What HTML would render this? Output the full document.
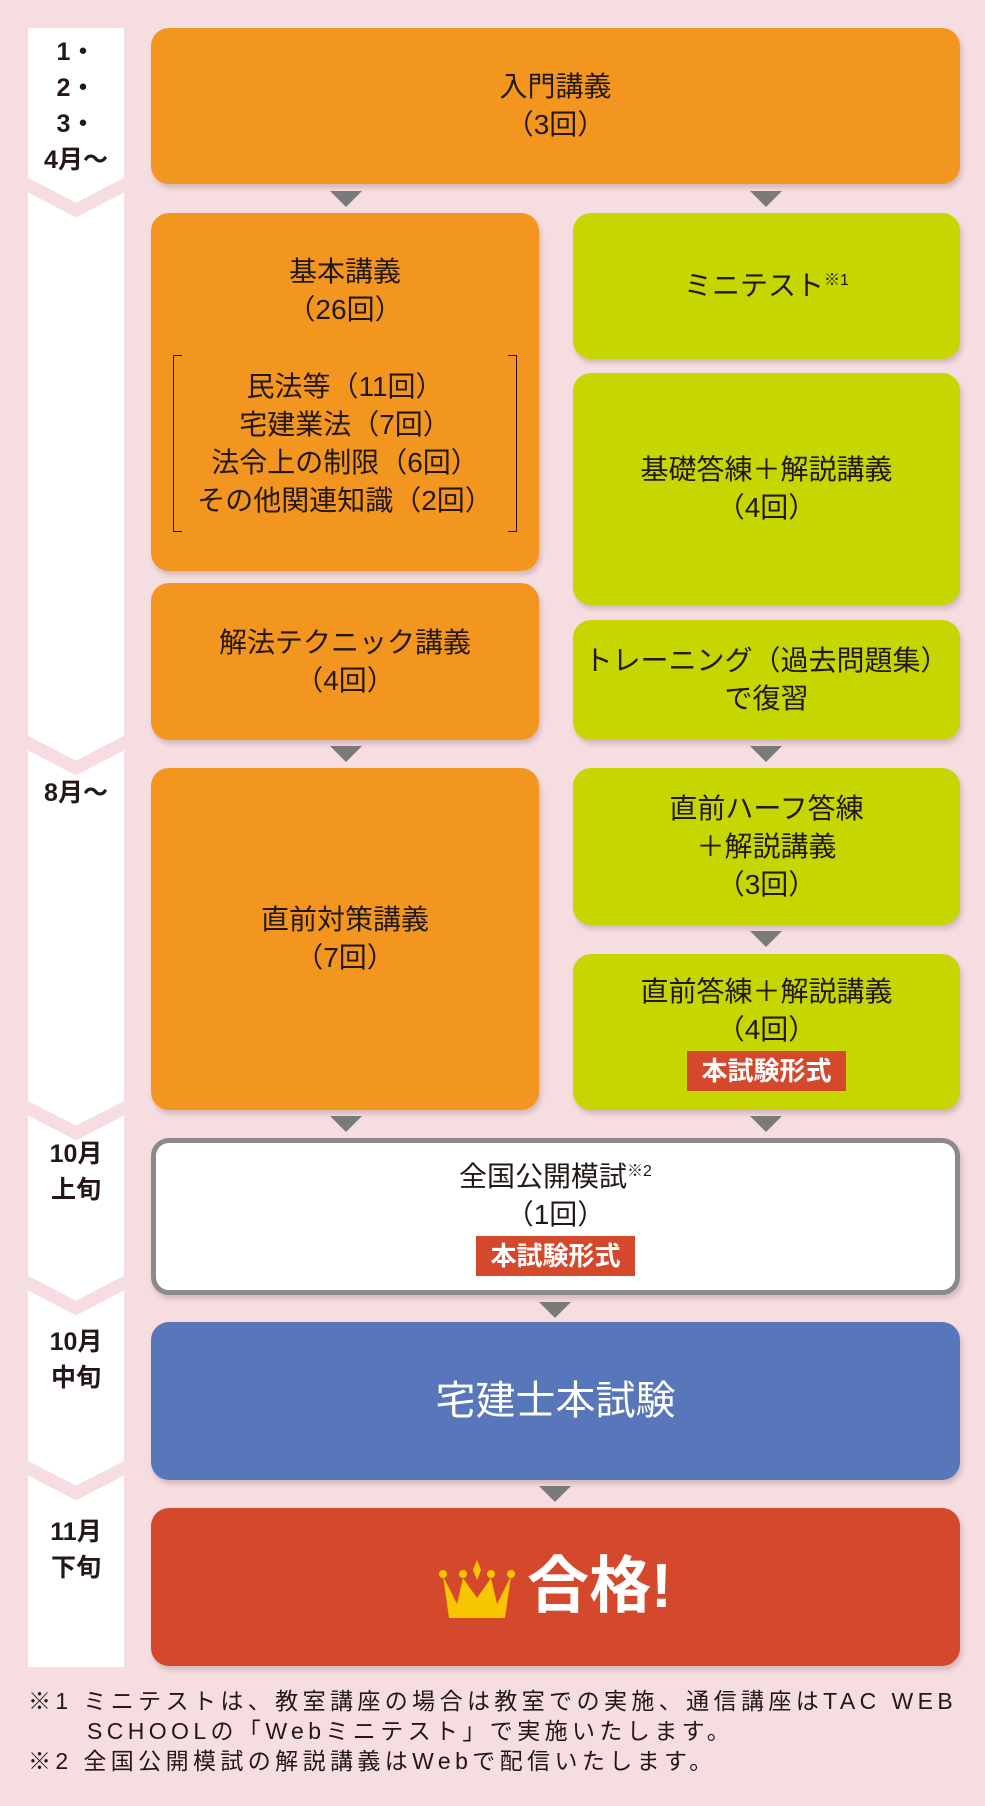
<!DOCTYPE html>
<html><head><meta charset="utf-8">
<style>
*{margin:0;padding:0;box-sizing:border-box}
body{width:985px;height:1806px;background:#F5DDE0;position:relative;overflow:hidden;font-family:"Liberation Sans","Noto Sans CJK JP",sans-serif;color:#231815}
.b{position:absolute;border-radius:18px;display:flex;flex-direction:column;align-items:center;justify-content:center;text-align:center;font-size:28px;line-height:38px;box-shadow:2px 4px 5px rgba(120,80,80,.25)}
.o{background:#F29620}.g{background:#C5D600}
.a{position:absolute;width:0;height:0;border-left:16px solid transparent;border-right:16px solid transparent;border-top:16px solid #7a7a7a}
.m{position:absolute;left:28px;width:96px;text-align:center;font-weight:bold;font-size:25px;line-height:36px}
.badge{background:#D4492C;color:#fff;font-weight:bold;font-size:26px;line-height:40px;padding:0 14px;margin-top:6px}
sup{font-size:16px;vertical-align:10px;line-height:0}
.fn{position:absolute;left:28px;font-size:23px;line-height:30px;letter-spacing:4.4px;white-space:nowrap}
</style></head><body>
<svg style="position:absolute;left:0;top:0" width="985" height="1806">
<rect x="28" y="28" width="96" height="1639" fill="#fff"/>
<g fill="none" stroke="#F5DDE0" stroke-width="13">
<polyline points="22,182 76,210 130,182"/>
<polyline points="22,740 76,768 130,740"/>
<polyline points="22,1105 76,1133 130,1105"/>
<polyline points="22,1280 76,1308 130,1280"/>
<polyline points="22,1465 76,1493 130,1465"/>
</g>
</svg>
<div class="m" style="top:34px">1・<br>2・<br>3・<br>4月〜</div>
<div class="m" style="top:775px">8月〜</div>
<div class="m" style="top:1136px">10月<br>上旬</div>
<div class="m" style="top:1324px">10月<br>中旬</div>
<div class="m" style="top:1514px">11月<br>下旬</div>

<div class="b o" style="left:151px;top:28px;width:809px;height:156px"><div>入門講義<br>（3回）</div></div>
<div class="a" style="left:330px;top:191px"></div><div class="a" style="left:750px;top:191px"></div>

<div class="b o" style="left:151px;top:213px;width:388px;height:358px;justify-content:flex-start;padding-top:40px"><div>基本講義<br>（26回）</div>
<div style="margin-top:26px;width:344px;height:177px;border-left:1px solid #231815;border-right:1px solid #231815;position:relative;display:flex;flex-direction:column;justify-content:center">
<div style="position:absolute;left:0;top:0;width:8px;border-top:1px solid #231815"></div><div style="position:absolute;left:0;bottom:0;width:8px;border-top:1px solid #231815"></div>
<div style="position:absolute;right:0;top:0;width:8px;border-top:1px solid #231815"></div><div style="position:absolute;right:0;bottom:0;width:8px;border-top:1px solid #231815"></div>
<div>民法等（11回）<br>宅建業法（7回）<br>法令上の制限（6回）<br>その他関連知識（2回）</div></div></div>
<div class="b g" style="left:573px;top:213px;width:387px;height:146px"><div>ミニテスト<sup>※1</sup></div></div>
<div class="b g" style="left:573px;top:373px;width:387px;height:232px"><div>基礎答練＋解説講義<br>（4回）</div></div>
<div class="b o" style="left:151px;top:583px;width:388px;height:157px"><div>解法テクニック講義<br>（4回）</div></div>
<div class="b g" style="left:573px;top:620px;width:387px;height:120px"><div>トレーニング（過去問題集）<br>で復習</div></div>
<div class="a" style="left:330px;top:746px"></div><div class="a" style="left:750px;top:746px"></div>

<div class="b o" style="left:151px;top:768px;width:388px;height:342px"><div>直前対策講義<br>（7回）</div></div>
<div class="b g" style="left:573px;top:768px;width:387px;height:157px"><div>直前ハーフ答練<br>＋解説講義<br>（3回）</div></div>
<div class="a" style="left:750px;top:931px"></div>
<div class="b g" style="left:573px;top:954px;width:387px;height:156px"><div>直前答練＋解説講義<br>（4回）</div><div class="badge" style="margin-top:2px">本試験形式</div></div>
<div class="a" style="left:330px;top:1116px"></div><div class="a" style="left:750px;top:1116px"></div>

<div class="b" style="left:151px;top:1138px;width:809px;height:157px;background:#fff;border:5px solid #8a8a8a"><div>全国公開模試<sup>※2</sup><br>（1回）</div><div class="badge" style="margin-top:2px">本試験形式</div></div>
<div class="a" style="left:539px;top:1302px"></div>
<div class="b" style="left:151px;top:1322px;width:809px;height:158px;background:#5877BA;color:#fff;font-size:40px"><div>宅建士本試験</div></div>
<div class="a" style="left:539px;top:1486px"></div>
<div class="b" style="left:151px;top:1508px;width:809px;height:158px;background:#D4492C;color:#fff;font-size:62px;font-weight:bold;flex-direction:row">
<svg width="76" height="62" viewBox="0 0 76 62" style="margin-right:12px;margin-top:8px"><polygon points="4,16 18,44 24,18 38,38 52,18 58,44 72,16 66,58 10,58" fill="#F7C600"/><circle cx="4" cy="14" r="4" fill="#F7C600"/><circle cx="24" cy="14" r="4" fill="#F7C600"/><circle cx="52" cy="14" r="4" fill="#F7C600"/><circle cx="72" cy="14" r="4" fill="#F7C600"/><polygon points="38,0 42,10 38,20 34,10" fill="#F7C600"/></svg><div>合格!</div></div>

<div class="fn" style="top:1686px">※1 ミニテストは、教室講座の場合は教室での実施、通信講座はTAC WEB</div>
<div class="fn" style="top:1716px;left:87px">SCHOOLの「Webミニテスト」で実施いたします。</div>
<div class="fn" style="top:1746px">※2 全国公開模試の解説講義はWebで配信いたします。</div>
</body></html>
